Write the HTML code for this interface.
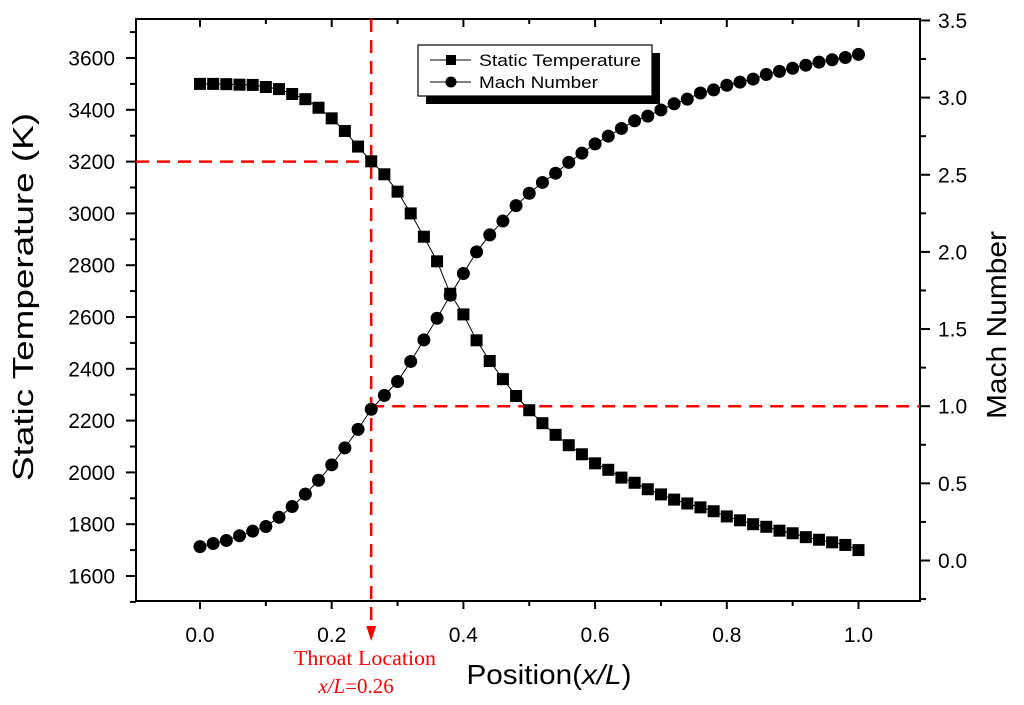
<!DOCTYPE html>
<html><head><meta charset="utf-8"><style>
body{margin:0;background:#fff}
svg{display:block;font-family:"Liberation Sans",Arial,sans-serif}
</style></head><body>
<svg id="chart" width="1024" height="705" viewBox="0 0 1024 705">
<g id="plot"></g>
</svg>
<script>
const positions=[0,0.02,0.04,0.06,0.08,0.10,0.12,0.14,0.16,0.18,0.20,0.22,0.24,0.26,0.28,0.30,0.32,0.34,0.36,0.38,0.40,0.42,0.44,0.46,0.48,0.50,0.52,0.54,0.56,0.58,0.60,0.62,0.64,0.66,0.68,0.70,0.72,0.74,0.76,0.78,0.80,0.82,0.84,0.86,0.88,0.90,0.92,0.94,0.96,0.98,1.0];
const temperature=[3500,3500,3499,3497,3496,3488,3480,3461,3441,3408,3367,3318,3258,3201,3151,3084,3000,2910,2815,2690,2610,2510,2430,2360,2295,2240,2190,2145,2105,2070,2035,2010,1980,1960,1935,1915,1895,1880,1865,1850,1830,1815,1800,1790,1775,1765,1750,1740,1730,1720,1700];
const mach=[0.09,0.11,0.13,0.16,0.19,0.22,0.28,0.35,0.43,0.52,0.62,0.73,0.85,0.98,1.07,1.16,1.29,1.43,1.57,1.72,1.86,2.00,2.11,2.20,2.30,2.38,2.45,2.51,2.58,2.64,2.70,2.75,2.80,2.85,2.88,2.92,2.96,2.99,3.03,3.05,3.08,3.10,3.12,3.15,3.17,3.19,3.21,3.23,3.245,3.26,3.28];
const xTicks=[0,0.2,0.4,0.6,0.8,1.0];
const xTickLabels=["0.0","0.2","0.4","0.6","0.8","1.0"];
const tTicks=[1600,1800,2000,2200,2400,2600,2800,3000,3200,3400,3600];
const mTicks=[0,0.5,1.0,1.5,2.0,2.5,3.0,3.5];
const mTickLabels=["0.0","0.5","1.0","1.5","2.0","2.5","3.0","3.5"];
const throatX=0.26, throatT=3200, throatM=1.0;

const L=136,R=920,T=19,B=601;
const xs=v=>200+v*658.5;
const yT=v=>576-(v-1600)/200*51.8;
const yM=v=>560.5-v*154.3;
const NS="http://www.w3.org/2000/svg";
const g=document.getElementById('plot');
function mk(tag,attrs,parent){const e=document.createElementNS(NS,tag);for(const k in attrs)e.setAttribute(k,attrs[k]);(parent||g).appendChild(e);return e;}

let e=mk('rect',{x:L,y:T,width:R-L,height:B-T,fill:'none',stroke:'#000','stroke-width':2});



xTicks.forEach((v,i)=>{
  const x=xs(v);
  mk('line',{x1:x,y1:B,x2:x,y2:B+8,stroke:'#000','stroke-width':2});
  mk('line',{x1:x,y1:T,x2:x,y2:T+8,stroke:'#000','stroke-width':2});
  const t=mk('text',{x:x,y:B+41,'font-size':21,'text-anchor':'middle'});t.textContent=xTickLabels[i];
  
  
});
for(let v=-0.1;v<=1.11;v+=0.2){const x=xs(v);if(x<L-1||x>R+1)continue;
  mk('line',{x1:x,y1:B,x2:x,y2:B+5,stroke:'#000','stroke-width':2});
  mk('line',{x1:x,y1:T,x2:x,y2:T+5,stroke:'#000','stroke-width':2});}
tTicks.forEach(v=>{
  const y=yT(v);
  mk('line',{x1:L-10,y1:y,x2:L,y2:y,stroke:'#000','stroke-width':2});
  const m=yT(v+100);if(m>T)mk('line',{x1:L-6,y1:m,x2:L,y2:m,stroke:'#000','stroke-width':2});
  const t=mk('text',{x:L-21,y:y+7.5,'font-size':21,'text-anchor':'end'});t.textContent=v;
  
  
});
mk('line',{x1:L-6,y1:yT(1500),x2:L,y2:yT(1500),stroke:'#000','stroke-width':2});
mTicks.forEach((v,i)=>{
  const y=yM(v);
  mk('line',{x1:R,y1:y,x2:R+10,y2:y,stroke:'#000','stroke-width':2});
  const m=yM(v-0.25);if(m<B)mk('line',{x1:R,y1:m,x2:R+6,y2:m,stroke:'#000','stroke-width':2});
  const t=mk('text',{x:R+18,y:y+7.5,'font-size':21});t.textContent=mTickLabels[i];
  
  
});

const dash={stroke:'#f00','stroke-width':2.5,'stroke-dasharray':'13,8',fill:'none'};
e=mk('line',Object.assign({x1:L,y1:yT(throatT),x2:xs(throatX),y2:yT(throatT)},dash));


e=mk('line',Object.assign({x1:xs(throatX),y1:T,x2:xs(throatX),y2:628},dash));


e=mk('line',Object.assign({x1:xs(throatX),y1:yM(throatM),x2:R,y2:yM(throatM)},dash));


e=mk('polygon',{points:`${xs(throatX)-5},626 ${xs(throatX)+5},626 ${xs(throatX)},641`,fill:'#f00'});



const pT=positions.map((p,i)=>xs(p)+','+yT(temperature[i])).join(' ');
const pM=positions.map((p,i)=>xs(p)+','+yM(mach[i])).join(' ');
e=mk('polyline',{points:pT,fill:'none',stroke:'#000','stroke-width':1});


e=mk('polyline',{points:pM,fill:'none',stroke:'#000','stroke-width':1});


positions.forEach((p,i)=>{
  const s=mk('rect',{x:xs(p)-6,y:yT(temperature[i])-6,width:12,height:12,fill:'#000'});
  
  
  const c=mk('circle',{cx:xs(p),cy:yM(mach[i]),r:6.5,fill:'#000'});
  
  
});

const lg=mk('g',{});


mk('rect',{x:426,y:53,width:234,height:51,fill:'#000'},lg);
mk('rect',{x:418,y:45,width:234,height:51,fill:'#fff',stroke:'#000','stroke-width':1.2},lg);
mk('line',{x1:430,y1:60,x2:471,y2:60,stroke:'#000'},lg);
mk('rect',{x:446,y:55,width:10,height:10,fill:'#000'},lg);
mk('line',{x1:430,y1:82,x2:471,y2:82,stroke:'#000'},lg);
mk('circle',{cx:451,cy:82,r:5.5,fill:'#000'},lg);
let t=mk('text',{x:479,y:66,'font-size':17,textLength:162,lengthAdjust:'spacingAndGlyphs'},lg);t.textContent='Static Temperature';


t=mk('text',{x:479,y:88,'font-size':17,textLength:119,lengthAdjust:'spacingAndGlyphs'},lg);t.textContent='Mach Number';



t=mk('text',{x:0,y:0,'font-size':29,'text-anchor':'middle',textLength:368,lengthAdjust:'spacingAndGlyphs',transform:'translate(33,297) rotate(-90)'});t.textContent='Static Temperature (K)';


t=mk('text',{x:0,y:0,'font-size':28,'text-anchor':'middle',textLength:188,lengthAdjust:'spacingAndGlyphs',transform:'translate(1006,325) rotate(-90)'});t.textContent='Mach Number';


t=mk('text',{x:549,y:684,'font-size':28,'text-anchor':'middle',textLength:165,lengthAdjust:'spacingAndGlyphs'});
t.innerHTML='Position(<tspan font-style="italic">x/L</tspan>)';


t=mk('text',{x:365,y:665,'font-size':21,'text-anchor':'middle',fill:'#f00','font-family':'Liberation Serif,serif',textLength:142,lengthAdjust:'spacingAndGlyphs'});t.textContent='Throat Location';


t=mk('text',{x:356,y:693,'font-size':21,'text-anchor':'middle',fill:'#f00','font-family':'Liberation Serif,serif'});
t.innerHTML='<tspan font-style="italic">x/L</tspan>=0.26';


</script>
</body></html>
